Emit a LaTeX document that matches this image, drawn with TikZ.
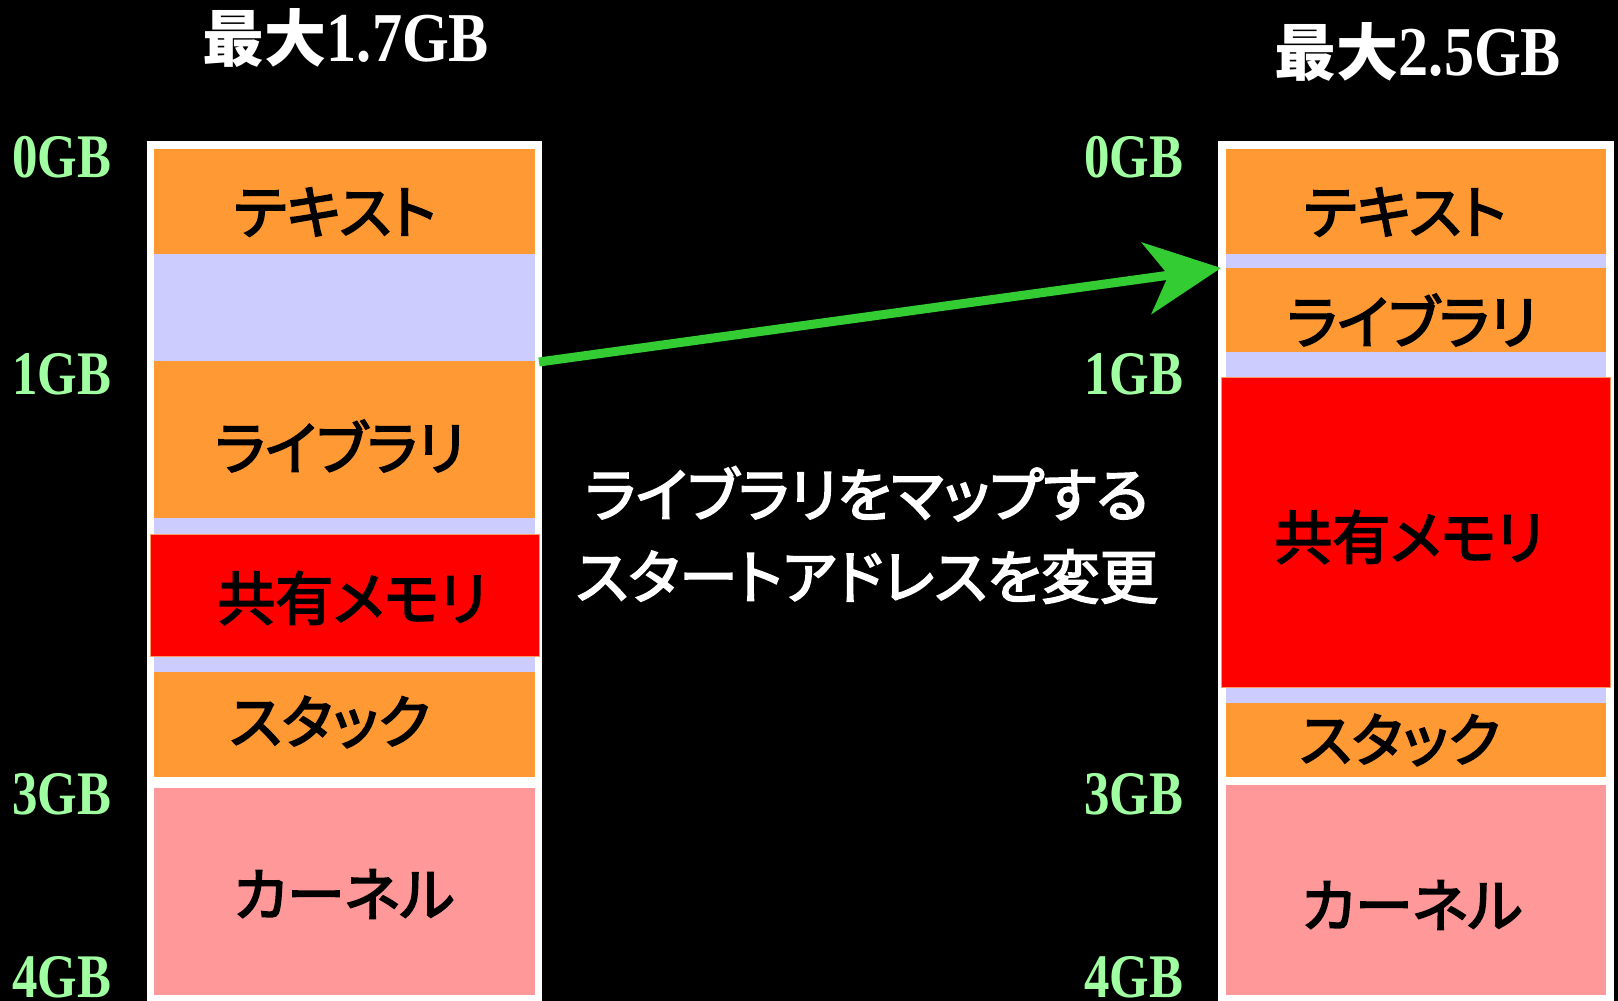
\documentclass[tikz,border=0pt]{standalone}
\usepackage{fontspec}
\usetikzlibrary{arrows.meta}
\newfontfamily\jp[RawFeature={+palt;embolden=3}]{Noto Sans CJK JP}
\newfontfamily\jpt{Noto Sans CJK JP}
\newfontfamily\gbfont[FakeStretch=0.82]{Liberation Serif}
\newfontfamily\ttlfont[FakeStretch=0.86]{Liberation Serif}
\definecolor{orng}{HTML}{FF9933}
\definecolor{lav}{HTML}{CCCCFF}
\definecolor{shm}{HTML}{FF0000}
\definecolor{shmedge}{HTML}{FF9966}
\definecolor{kern}{HTML}{FF9999}
\definecolor{gblab}{HTML}{A0FFA0}
\definecolor{arrowgreen}{HTML}{33CC33}
\tikzset{
  blk/.style={rectangle, inner sep=0pt, outer sep=0pt, anchor=north west},
  blklab/.style={inner sep=0pt, text=black, font=\jp\fontsize{58}{58}\selectfont},
  frame/.style={rectangle, inner sep=0pt, outer sep=0pt, anchor=north west, fill=white},
  gb/.style={font=\gbfont\bfseries\fontsize{62}{62}\selectfont, text=gblab, inner sep=0pt},
  ttl/.style={text=white, inner sep=0pt},
  maparrow/.style={draw=arrowgreen, line width=9pt,
    -{Stealth[length=75pt, width=72pt, inset=22pt, fill=arrowgreen]}},
  note/.style={text=white, align=center, font=\jp\fontsize{58.5}{82}\selectfont, inner sep=0pt}
}
\begin{document}
\begin{tikzpicture}[x=1pt,y=-1pt]
\fill[black] (0,0) rectangle (1618,1001);
\useasboundingbox (0,0) rectangle (1618,1001);

% titles
\node[ttl] (LT) at (346,38) {{\jpt\bfseries\fontsize{62}{62}\selectfont 最大}{\ttlfont\bfseries\fontsize{70}{70}\selectfont 1.7GB}};
\node[ttl] (RT) at (1418,52) {{\jpt\bfseries\fontsize{62}{62}\selectfont 最大}{\ttlfont\bfseries\fontsize{70}{70}\selectfont 2.5GB}};

% left column
\node[frame, minimum width=395pt, minimum height=860pt] (Lframe) at (147,141) {};
\node[blk, fill=lav, minimum width=381pt, minimum height=628pt] (Lbg) at (154,149) {};
\node[blk, fill=orng, minimum width=381pt, minimum height=105pt] (Ltext) at (154,149) {};
\node[blk, fill=orng, minimum width=381pt, minimum height=157pt] (Llib) at (154,361) {};
\node[blk, fill=shm, draw=shmedge, line width=1.5pt, minimum width=389pt, minimum height=122pt] (Lshm) at (150.5,534.5) {};
\node[blk, fill=orng, minimum width=381pt, minimum height=105pt] (Lstk) at (154,672) {};
\node[blk, fill=kern, minimum width=381pt, minimum height=207pt] (Lker) at (154,788) {};
\node[blklab] (LtextT) at (335,212) {テキスト};
\node[blklab] (LlibT) at (340,446) {ライブラリ};
\node[blklab] (LshmT) at (352,598) {共有メモリ};
\node[blklab] (LstkT) at (330,722) {スタック};
\node[blklab] (LkerT) at (344,894) {カーネル};

% right column
\node[frame, minimum width=396pt, minimum height=860pt] (Rframe) at (1218,141) {};
\node[blk, fill=lav, minimum width=380pt, minimum height=628pt] (Rbg) at (1226,149) {};
\node[blk, fill=orng, minimum width=380pt, minimum height=105pt] (Rtext) at (1226,149) {};
\node[blk, fill=orng, minimum width=380pt, minimum height=84pt] (Rlib) at (1226,268) {};
\node[blk, fill=shm, draw=shmedge, line width=1.5pt, minimum width=389pt, minimum height=310pt] (Rshm) at (1221.5,377.5) {};
\node[blk, fill=orng, minimum width=380pt, minimum height=74pt] (Rstk) at (1226,703) {};
\node[blk, fill=kern, minimum width=380pt, minimum height=210pt] (Rker) at (1226,785) {};
\node[blklab] (RtextT) at (1405,212) {テキスト};
\node[blklab] (RlibT) at (1412,320) {ライブラリ};
\node[blklab] (RshmT) at (1409,537) {共有メモリ};
\node[blklab] (RstkT) at (1400,740) {スタック};
\node[blklab] (RkerT) at (1412,905) {カーネル};

% GB labels
\node[gb] (L0) at (62,157) {0GB};
\node[gb] (L1) at (62,374) {1GB};
\node[gb] (L3) at (62,794) {3GB};
\node[gb] (L4) at (62,977) {4GB};
\node[gb] (R0) at (1134,157) {0GB};
\node[gb] (R1) at (1134,374) {1GB};
\node[gb] (R3) at (1134,794) {3GB};
\node[gb] (R4) at (1134,977) {4GB};

% note
\node[note] (N) at (867,535) {ライブラリをマップする\\スタートアドレスを変更};

% arrow
\coordinate (arrS) at (539,362);
\coordinate (arrE) at (1221,268);
\draw[maparrow] (arrS) -- (arrE);
\end{tikzpicture}
\end{document}
